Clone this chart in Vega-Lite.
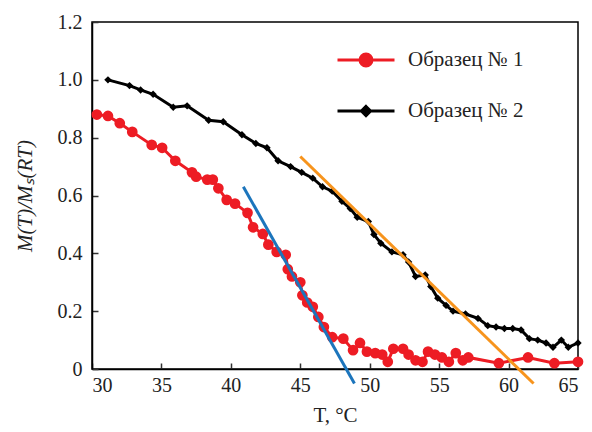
{
  "$schema": "https://vega.github.io/schema/vega-lite/v6.json",
  "width": 486,
  "height": 347,
  "autosize": "none",
  "padding": {"left": 92, "top": 22, "right": 14, "bottom": 63},
  "background": "white",
  "config": {
    "font": "'Liberation Serif', 'Times New Roman', serif",
    "view": {"stroke": "#000000", "strokeWidth": 1.5},
    "axis": {
      "domainColor": "#000000", "domainWidth": 1.5,
      "tickColor": "#333333", "tickWidth": 1.5, "tickSize": -6,
      "grid": false,
      "labelFontSize": 20, "labelColor": "#222222",
      "titleFontSize": 21, "titleColor": "#222222", "titleFontWeight": "normal"
    },
    "legend": {"labelFont": "'Liberation Serif', 'Times New Roman', serif"}
  },
  "datasets": {
    "meas": [
      {"series": "Образец № 1", "T": 30.35, "M": 0.88},
      {"series": "Образец № 1", "T": 31.15, "M": 0.875},
      {"series": "Образец № 1", "T": 32.0, "M": 0.85},
      {"series": "Образец № 1", "T": 32.9, "M": 0.82},
      {"series": "Образец № 1", "T": 34.3, "M": 0.775},
      {"series": "Образец № 1", "T": 35.05, "M": 0.765},
      {"series": "Образец № 1", "T": 36.0, "M": 0.72},
      {"series": "Образец № 1", "T": 37.2, "M": 0.68},
      {"series": "Образец № 1", "T": 37.5, "M": 0.665},
      {"series": "Образец № 1", "T": 38.3, "M": 0.655},
      {"series": "Образец № 1", "T": 38.7, "M": 0.655},
      {"series": "Образец № 1", "T": 39.1, "M": 0.625},
      {"series": "Образец № 1", "T": 39.7, "M": 0.585},
      {"series": "Образец № 1", "T": 40.3, "M": 0.572},
      {"series": "Образец № 1", "T": 41.2, "M": 0.54},
      {"series": "Образец № 1", "T": 41.6, "M": 0.49},
      {"series": "Образец № 1", "T": 42.3, "M": 0.467},
      {"series": "Образец № 1", "T": 42.7, "M": 0.43},
      {"series": "Образец № 1", "T": 43.3, "M": 0.405},
      {"series": "Образец № 1", "T": 43.95, "M": 0.395},
      {"series": "Образец № 1", "T": 44.1, "M": 0.345},
      {"series": "Образец № 1", "T": 44.4, "M": 0.32},
      {"series": "Образец № 1", "T": 45.0, "M": 0.3},
      {"series": "Образец № 1", "T": 45.15, "M": 0.255},
      {"series": "Образец № 1", "T": 45.5, "M": 0.23},
      {"series": "Образец № 1", "T": 45.9, "M": 0.215},
      {"series": "Образец № 1", "T": 46.3, "M": 0.18},
      {"series": "Образец № 1", "T": 46.7, "M": 0.145},
      {"series": "Образец № 1", "T": 47.3, "M": 0.11},
      {"series": "Образец № 1", "T": 48.1, "M": 0.105},
      {"series": "Образец № 1", "T": 48.8, "M": 0.065},
      {"series": "Образец № 1", "T": 49.3, "M": 0.09},
      {"series": "Образец № 1", "T": 49.8, "M": 0.06},
      {"series": "Образец № 1", "T": 50.4, "M": 0.055},
      {"series": "Образец № 1", "T": 50.9, "M": 0.05},
      {"series": "Образец № 1", "T": 51.3, "M": 0.025},
      {"series": "Образец № 1", "T": 51.7, "M": 0.07},
      {"series": "Образец № 1", "T": 52.4, "M": 0.07},
      {"series": "Образец № 1", "T": 52.8, "M": 0.05},
      {"series": "Образец № 1", "T": 53.3, "M": 0.03},
      {"series": "Образец № 1", "T": 53.8, "M": 0.025},
      {"series": "Образец № 1", "T": 54.2, "M": 0.06},
      {"series": "Образец № 1", "T": 54.7, "M": 0.05},
      {"series": "Образец № 1", "T": 55.2, "M": 0.04},
      {"series": "Образец № 1", "T": 55.7, "M": 0.025},
      {"series": "Образец № 1", "T": 56.2, "M": 0.055},
      {"series": "Образец № 1", "T": 56.7, "M": 0.03},
      {"series": "Образец № 1", "T": 57.1, "M": 0.04},
      {"series": "Образец № 1", "T": 59.3, "M": 0.02},
      {"series": "Образец № 1", "T": 61.4, "M": 0.04},
      {"series": "Образец № 1", "T": 63.3, "M": 0.02},
      {"series": "Образец № 1", "T": 65.0, "M": 0.025},
      {"series": "Образец № 2", "T": 31.15, "M": 1.0},
      {"series": "Образец № 2", "T": 32.7, "M": 0.98},
      {"series": "Образец № 2", "T": 33.5, "M": 0.965},
      {"series": "Образец № 2", "T": 34.4, "M": 0.95},
      {"series": "Образец № 2", "T": 35.85, "M": 0.905},
      {"series": "Образец № 2", "T": 36.85, "M": 0.91},
      {"series": "Образец № 2", "T": 38.4, "M": 0.86},
      {"series": "Образец № 2", "T": 39.45, "M": 0.855},
      {"series": "Образец № 2", "T": 40.8, "M": 0.81},
      {"series": "Образец № 2", "T": 41.8, "M": 0.78},
      {"series": "Образец № 2", "T": 42.6, "M": 0.765},
      {"series": "Образец № 2", "T": 43.4, "M": 0.72},
      {"series": "Образец № 2", "T": 44.3, "M": 0.7},
      {"series": "Образец № 2", "T": 45.1, "M": 0.68},
      {"series": "Образец № 2", "T": 45.9, "M": 0.66},
      {"series": "Образец № 2", "T": 46.6, "M": 0.63},
      {"series": "Образец № 2", "T": 47.3, "M": 0.615},
      {"series": "Образец № 2", "T": 48.0, "M": 0.58},
      {"series": "Образец № 2", "T": 48.6, "M": 0.555},
      {"series": "Образец № 2", "T": 49.1, "M": 0.525},
      {"series": "Образец № 2", "T": 49.9, "M": 0.51},
      {"series": "Образец № 2", "T": 50.3, "M": 0.465},
      {"series": "Образец № 2", "T": 50.8, "M": 0.435},
      {"series": "Образец № 2", "T": 51.6, "M": 0.405},
      {"series": "Образец № 2", "T": 52.4, "M": 0.395},
      {"series": "Образец № 2", "T": 52.8, "M": 0.37},
      {"series": "Образец № 2", "T": 53.3, "M": 0.32},
      {"series": "Образец № 2", "T": 54.0, "M": 0.325},
      {"series": "Образец № 2", "T": 54.4, "M": 0.285},
      {"series": "Образец № 2", "T": 54.9, "M": 0.245},
      {"series": "Образец № 2", "T": 55.5, "M": 0.22},
      {"series": "Образец № 2", "T": 56.0, "M": 0.2},
      {"series": "Образец № 2", "T": 56.9, "M": 0.19},
      {"series": "Образец № 2", "T": 57.8, "M": 0.175},
      {"series": "Образец № 2", "T": 58.5, "M": 0.15},
      {"series": "Образец № 2", "T": 59.1, "M": 0.145},
      {"series": "Образец № 2", "T": 59.7, "M": 0.14},
      {"series": "Образец № 2", "T": 60.3, "M": 0.14},
      {"series": "Образец № 2", "T": 60.9, "M": 0.135},
      {"series": "Образец № 2", "T": 61.5, "M": 0.105},
      {"series": "Образец № 2", "T": 62.1, "M": 0.1},
      {"series": "Образец № 2", "T": 62.7, "M": 0.09},
      {"series": "Образец № 2", "T": 63.2, "M": 0.075},
      {"series": "Образец № 2", "T": 63.8, "M": 0.1},
      {"series": "Образец № 2", "T": 64.3, "M": 0.075},
      {"series": "Образец № 2", "T": 65.0, "M": 0.09}
    ],
    "fits": [
      {"fit": "blue", "T": 40.9, "M": 0.63},
      {"fit": "blue", "T": 48.9, "M": -0.05},
      {"fit": "orange", "T": 45.0, "M": 0.735},
      {"fit": "orange", "T": 61.8, "M": -0.05}
    ]
  },
  "encoding": {
    "x": {"field": "T", "type": "quantitative",
      "scale": {"domain": [30, 65], "nice": false, "zero": false},
      "axis": {"values": [30, 35, 40, 45, 50, 55, 60, 65], "title": "T, °C", "labelPadding": 12, "titlePadding": 9,
        "labelFont": "'Liberation Serif', 'Times New Roman', serif", "titleFont": "'Liberation Serif', 'Times New Roman', serif"}},
    "y": {"field": "M", "type": "quantitative",
      "scale": {"domain": [0, 1.2], "nice": false},
      "axis": {"values": [0, 0.2, 0.4, 0.6, 0.8, 1.0, 1.2], "labelExpr": "datum.value == 0 ? '0' : format(datum.value, '.1f')",
        "labelFont": "'Liberation Serif', 'Times New Roman', serif", "titleFont": "'Liberation Serif', 'Times New Roman', serif",
        "title": "M(T)/Mₛ(RT)", "titleFontStyle": "italic", "titleFontSize": 21, "labelPadding": 16, "titlePadding": 22}},
    "color": {"field": "series", "type": "nominal",
      "scale": {"domain": ["Образец № 1", "Образец № 2"], "range": ["#ed1c24", "#000000"]}, "legend": null}
  },
  "layer": [
    {
      "data": {"name": "meas"},
      "mark": {"type": "line", "strokeWidth": 3},
      "encoding": {
        "color": {"field": "series", "type": "nominal",
          "scale": {"domain": ["Образец № 1", "Образец № 2"], "range": ["#ed1c24", "#000000"]},
          "legend": {
            "title": null, "orient": "none", "legendX": 244, "legendY": 8,
            "labelFontSize": 21, "labelColor": "#222222",
            "symbolSize": 3249, "symbolStrokeWidth": 3, "rowPadding": 9, "labelOffset": 12,
            "symbolType": {"expr": "datum.value == 'Образец № 1' ? 'M-1,0H1M-0.21,0A0.21,0.21 0 1,1 0.21,0A0.21,0.21 0 1,1 -0.21,0Z' : 'M-1,0H1M0,-0.16L0.16,0L0,0.16L-0.16,0Z'"},
            "symbolFillColor": {"expr": "datum.value == 'Образец № 1' ? '#ed1c24' : '#000000'"}
          }}
      }
    },
    {
      "data": {"name": "meas"},
      "transform": [{"filter": "datum.series == 'Образец № 1'"}],
      "mark": {"type": "point", "filled": true, "opacity": 1, "shape": "circle", "size": 115}
    },
    {
      "data": {"name": "meas"},
      "transform": [{"filter": "datum.series == 'Образец № 2'"}],
      "mark": {"type": "point", "filled": true, "opacity": 1, "shape": "diamond", "size": 55}
    },
    {
      "data": {"name": "fits"},
      "mark": {"type": "line", "strokeWidth": 3, "clip": false},
      "encoding": {
        "color": null,
        "detail": {"field": "fit", "type": "nominal"},
        "stroke": {"field": "fit", "type": "nominal", "scale": {"domain": ["blue", "orange"], "range": ["#1c75bc", "#f7941d"]}, "legend": null}
      }
    }
  ]
}
